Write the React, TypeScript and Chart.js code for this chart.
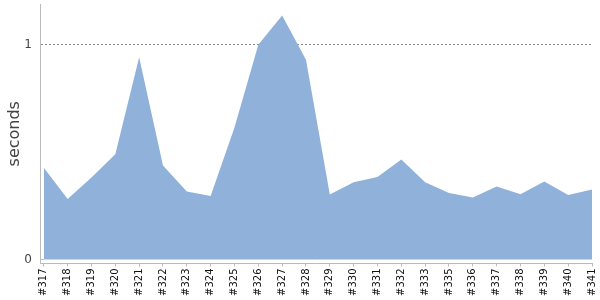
import React, { useEffect, useRef } from "react";
import { Chart, registerables } from "chart.js";

Chart.register(...registerables);

const builds: string[] = [
  "#317", "#318", "#319", "#320", "#321", "#322", "#323", "#324", "#325", "#326",
  "#327", "#328", "#329", "#330", "#331", "#332", "#333", "#335", "#336", "#337",
  "#338", "#339", "#340", "#341",
];

const seconds: number[] = [
  0.427, 0.281, 0.382, 0.49, 0.942, 0.438, 0.317, 0.295, 0.615, 1.0,
  1.136, 0.93, 0.303, 0.36, 0.384, 0.466, 0.36, 0.309, 0.289, 0.34,
  0.304, 0.363, 0.3, 0.326,
];

const yTicks: number[] = [0, 1];
const yTitle = "seconds";

const zeroTickPlugin = {
  id: "zeroTick",
  afterDraw(chart: any) {
    const { ctx, chartArea, scales } = chart;
    const y = Math.round(scales.y.getPixelForValue(0)) + 0.5;
    const x2 = scales.x.getPixelForValue(0);
    ctx.save();
    ctx.strokeStyle = "#bbbbbb";
    ctx.lineWidth = 1;
    ctx.beginPath();
    ctx.moveTo(chartArea.left, y);
    ctx.lineTo(x2, y);
    ctx.stroke();
    ctx.restore();
  },
};

export default function App() {
  const ref = useRef<HTMLCanvasElement | null>(null);

  useEffect(() => {
    if (!ref.current) return;
    const chart = new Chart(ref.current, {
      type: "line",
      data: {
        datasets: [
          {
            data: seconds.map((v, i) => ({ x: i, y: v })),
            fill: "origin",
            backgroundColor: "#8fb1da",
            borderWidth: 0,
            borderColor: "rgba(0,0,0,0)",
            pointRadius: 0,
            tension: 0,
          },
        ],
      },
      options: {
        animation: false,
        responsive: true,
        maintainAspectRatio: false,
        layout: { padding: { top: 4, right: 8, left: 0, bottom: 0 } },
        plugins: { legend: { display: false }, tooltip: { enabled: false } },
        scales: {
          x: {
            type: "linear",
            min: -0.16,
            max: builds.length - 1,
            afterBuildTicks: (scale: any) => {
              scale.ticks = builds.map((_, i) => ({ value: i }));
            },
            afterFit: (scale: any) => {
              scale.height = 36.5;
              scale.paddingLeft = 0;
              scale.paddingRight = 0;
            },
            ticks: {
              autoSkip: false,
              minRotation: 90,
              maxRotation: 90,
              padding: 2,
              color: "#111111",
              font: { family: "DejaVu Sans", size: 10 },
              callback: (v: any) => builds[Math.round(Number(v))] ?? "",
            },
            grid: {
              drawOnChartArea: false,
              drawTicks: true,
              tickLength: 3,
              color: "#bbbbbb",
            },
            border: { color: "#bbbbbb" },
          },
          y: {
            type: "linear",
            min: -0.019,
            max: 1.19,
            afterBuildTicks: (scale: any) => {
              scale.ticks = yTicks.map((v) => ({ value: v }));
            },
            afterFit: (scale: any) => {
              scale.width = 40;
              scale.paddingTop = 0;
              scale.paddingBottom = 0;
            },
            ticks: {
              padding: 8,
              color: "#444444",
              font: { family: "DejaVu Sans", size: 12 },
              callback: (v: any) => String(v),
            },
            grid: {
              drawTicks: false,
              tickLength: 0,
              color: (c: any) => (c.tick && c.tick.value === 1 ? "#888888" : "rgba(0,0,0,0)"),
            },
            border: { color: "#bbbbbb", dash: [2, 2] },
            title: {
              display: true,
              text: yTitle,
              color: "#444444",
              font: { family: "DejaVu Sans", size: 16 },
              padding: { top: 5, bottom: 0 },
            },
          },
        },
      },
      plugins: [zeroTickPlugin],
    } as any);
    return () => chart.destroy();
  }, []);

  return (
    <div style={{ position: "fixed", left: 0, top: 0, width: 600, height: 300, background: "#fff" }}>
      <canvas ref={ref} />
    </div>
  );
}
